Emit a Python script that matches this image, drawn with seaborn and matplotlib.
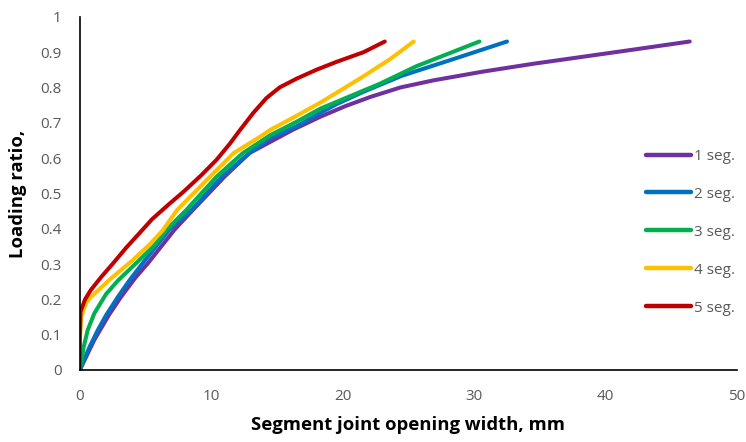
import pandas as pd
import matplotlib
matplotlib.use("Agg")
import matplotlib.pyplot as plt
import seaborn as sns

# Joint opening width (mm) and loading ratio for each segment count
seg1_x = [0.0, 1.1, 2.2, 3.1, 4.2, 5.2, 6.2, 7.2, 8.6, 11.0, 12.9, 15.2, 16.2,
          18.3, 20.2, 22.1, 24.4, 26.9, 30.7, 34.5, 38.3, 42.1, 46.4]
seg1_y = [0.0, 0.085, 0.155, 0.205, 0.26, 0.303, 0.35, 0.397, 0.453, 0.547, 0.614, 0.66, 0.68,
          0.717, 0.747, 0.773, 0.80, 0.82, 0.845, 0.867, 0.887, 0.907, 0.93]

seg2_x = [0.0, 0.75, 1.37, 2.0, 2.9, 3.8, 4.8, 5.8, 6.8, 8.5, 10.8, 12.9, 14.5, 16.5,
          18.3, 19.5, 21.6, 24.5, 28.4, 32.5]
seg2_y = [0.0, 0.066, 0.113, 0.155, 0.207, 0.255, 0.303, 0.35, 0.397, 0.453, 0.547, 0.614, 0.657, 0.69,
          0.728, 0.752, 0.788, 0.833, 0.88, 0.93]

seg3_x = [0.0, 0.3, 0.6, 1.1, 2.0, 2.9, 4.3, 5.6, 6.6, 8.1, 10.4, 12.4, 14.5, 16.5,
          18.3, 22.8, 25.6, 29.5, 30.4]
seg3_y = [0.0, 0.066, 0.113, 0.16, 0.215, 0.253, 0.303, 0.35, 0.397, 0.453, 0.547, 0.614, 0.665, 0.703,
          0.74, 0.81, 0.86, 0.917, 0.93]

seg4_x = [0.0, 0.0, 0.1, 0.47, 0.85, 2.4, 4.0, 5.3, 6.3, 7.4, 9.9, 11.7, 13.7, 14.5,
          16.5, 18.3, 21.3, 23.6, 25.4]
seg4_y = [0.0, 0.08, 0.15, 0.19, 0.207, 0.26, 0.31, 0.355, 0.395, 0.453, 0.547, 0.614, 0.66, 0.68,
          0.72, 0.757, 0.825, 0.88, 0.93]

seg5_x = [0.0, 0.0, 0.05, 0.4, 0.85, 1.6, 2.6, 3.5, 4.6, 5.5, 6.8, 7.9, 9.2, 10.4, 11.4,
          12.2, 13.2, 14.2, 15.2, 16.5, 18.0, 19.5, 21.6, 23.2]
seg5_y = [0.0, 0.09, 0.165, 0.20, 0.227, 0.262, 0.305, 0.345, 0.39, 0.427, 0.47, 0.505, 0.55, 0.595, 0.64,
          0.68, 0.728, 0.77, 0.80, 0.825, 0.85, 0.872, 0.90, 0.93]

labels = ["1 seg.", "2 seg.", "3 seg.", "4 seg.", "5 seg."]
colors = ["#7030A0", "#0070C0", "#00B050", "#FFC000", "#C00000"]

frames = []
for lab, xs, ys in zip(labels,
                       [seg1_x, seg2_x, seg3_x, seg4_x, seg5_x],
                       [seg1_y, seg2_y, seg3_y, seg4_y, seg5_y]):
    frames.append(pd.DataFrame({"width": xs, "ratio": ys, "series": lab}))
df = pd.concat(frames, ignore_index=True)

sns.set_theme(style="white")
plt.rcParams["font.family"] = ["Open Sans", "DejaVu Sans"]

fig = plt.figure(figsize=(7.46, 4.42), dpi=100)
ax = fig.add_axes([0.107, 0.163, 0.881, 0.799])

sns.lineplot(data=df, x="width", y="ratio", hue="series", hue_order=labels,
             palette=colors, sort=False, estimator=None,
             linewidth=2.9, ax=ax, legend=True)
for ln in ax.get_lines():
    ln.set_solid_capstyle("round")
    ln.set_solid_joinstyle("round")

ax.set_xlim(0, 50)
ax.set_ylim(0, 1)
ax.set_xticks([0, 10, 20, 30, 40, 50])
ax.set_yticks([0, 0.1, 0.2, 0.3, 0.4, 0.5, 0.6, 0.7, 0.8, 0.9, 1.0])
ax.set_yticklabels(["0", "0.1", "0.2", "0.3", "0.4", "0.5", "0.6", "0.7", "0.8", "0.9", "1"])
ax.tick_params(axis="both", length=0, labelsize=11, labelcolor="#595959")
ax.tick_params(axis="x", pad=14)
ax.tick_params(axis="y", pad=13)

for side in ["top", "right"]:
    ax.spines[side].set_visible(False)
for side in ["left", "bottom"]:
    ax.spines[side].set_color("black")
    ax.spines[side].set_linewidth(1.2)

ax.set_xlabel("Segment joint opening width, mm", fontsize=13.3, fontweight="bold",
              color="black", labelpad=8)
ax.set_ylabel("Loading ratio,", fontsize=13.3, fontweight="bold", color="black", labelpad=10)

leg = ax.legend(loc="center left", bbox_to_anchor=(0.862, 0.39), frameon=False,
                fontsize=11, handlelength=2.9, handletextpad=0.2, labelspacing=1.5,
                borderpad=0, borderaxespad=0)
for t in leg.get_texts():
    t.set_color("#595959")
for h in leg.get_lines():
    h.set_linewidth(3.2)

fig.savefig("out.png", dpi=100)
